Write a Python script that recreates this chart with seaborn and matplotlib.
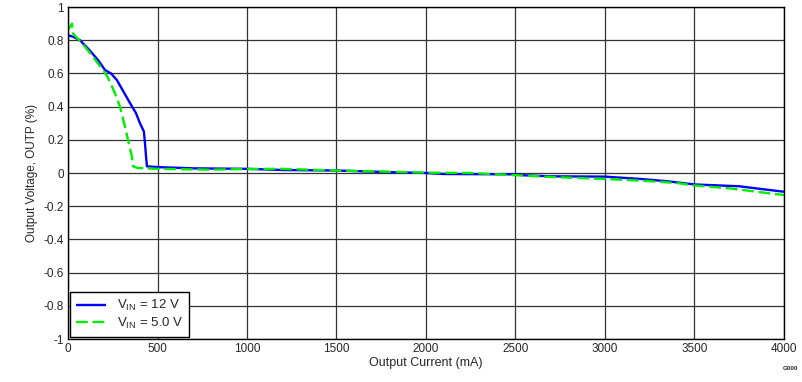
import numpy as np
import pandas as pd
import seaborn as sns
import matplotlib.pyplot as plt

# Values
i_12v = [0, 30, 67, 120, 168, 207, 240, 273, 310, 347, 380, 402, 424, 430, 436, 441,
         514, 700, 1000, 1200, 1500, 1800, 2000, 2100, 2500, 2550, 2700, 3000, 3200,
         3350, 3500, 3750, 3900, 4000]
v_12v = [0.83, 0.82, 0.80, 0.74, 0.68, 0.62, 0.60, 0.56, 0.49, 0.42, 0.36, 0.30, 0.25,
         0.18, 0.10, 0.04, 0.035, 0.028, 0.025, 0.018, 0.015, 0.005, 0.0, -0.006,
         -0.008, -0.014, -0.02, -0.022, -0.036, -0.05, -0.069, -0.08, -0.10, -0.113]

i_5v = [0, 22, 28, 80, 140, 196, 220, 246, 270, 290, 318, 335, 357, 363, 390, 500,
        800, 1000, 1200, 1500, 1700, 2000, 2250, 2550, 2750, 3000, 3200, 3400, 3500,
        3700, 3900, 4000]
v_5v = [0.86, 0.90, 0.84, 0.78, 0.70, 0.62, 0.58, 0.52, 0.46, 0.40, 0.28, 0.20, 0.10,
        0.04, 0.03, 0.025, 0.02, 0.024, 0.025, 0.015, 0.01, 0.002, 0.0, -0.016, -0.026,
        -0.036, -0.046, -0.06, -0.075, -0.093, -0.12, -0.133]

labels = [r'V$_{\mathrm{IN}}$ = 12 V', r'V$_{\mathrm{IN}}$ = 5.0 V']

df = pd.concat([
    pd.DataFrame({'current': i_12v, 'vout': v_12v, 'series': labels[0]}),
    pd.DataFrame({'current': i_5v, 'vout': v_5v, 'series': labels[1]}),
])

sns.set_style("white")
plt.rcParams['font.family'] = ['Liberation Sans', 'DejaVu Sans']
plt.rcParams['mathtext.fontset'] = 'custom'
plt.rcParams['mathtext.rm'] = 'Liberation Sans'
plt.rcParams['mathtext.it'] = 'Liberation Sans'

fig = plt.figure(figsize=(8.03, 3.82), dpi=100)
ax = fig.add_axes([68 / 803, 1 - 339 / 382, (784 - 68) / 803, (339 - 7) / 382])

sns.lineplot(data=df, x='current', y='vout', hue='series', style='series',
             palette={labels[0]: '#0000ff', labels[1]: '#00ee00'},
             dashes={labels[0]: (1, 0), labels[1]: (5, 2)},
             linewidth=1.7, ax=ax, sort=False, estimator=None)

ax.set_xlim(0, 4000)
ax.set_ylim(-1, 1)
ax.set_xticks(np.arange(0, 4001, 500))
yt = np.round(np.arange(-1, 1.01, 0.2), 1)
ax.set_yticks(yt)
ax.set_yticklabels(['0' if v == 0 else f'{v:g}' for v in yt])
ax.grid(True, color='#333333', linewidth=0.9)
ax.tick_params(length=0, labelsize=8.5, pad=3)
for s in ax.spines.values():
    s.set_color('black')
    s.set_linewidth(1)
ax.set_xlabel('Output Current (mA)', fontsize=9, labelpad=1)
ax.set_ylabel('Output Voltage, OUTP (%)', fontsize=8.5, labelpad=4)

leg = ax.legend(loc='lower left', fontsize=9.5, frameon=True, fancybox=False,
                borderaxespad=0.15, handlelength=2.3, labelspacing=0.2,
                borderpad=0.45)
leg.get_frame().set_edgecolor('black')
leg.get_frame().set_linewidth(1)
leg.get_frame().set_alpha(1)

fig.text(790 / 803, 1 - 368 / 382, 'G000', fontsize=4.5, ha='center', va='center',
         fontweight='bold')

fig.savefig('out.png', dpi=100)
